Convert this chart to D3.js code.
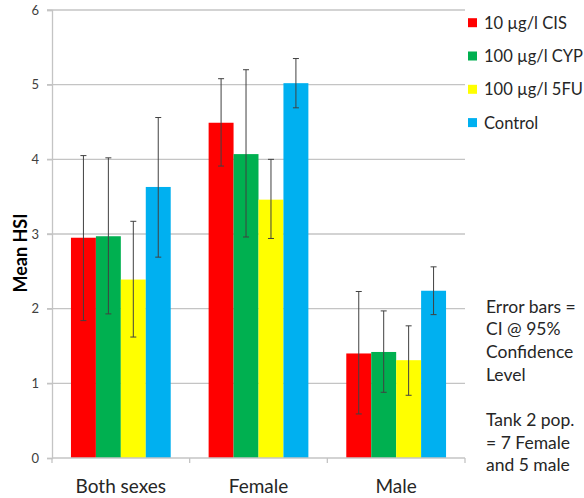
<!DOCTYPE html>
<html>
<head>
<meta charset="utf-8">
<script src="https://cdn.jsdelivr.net/npm/d3@7"></script>
<style>
  body { margin: 0; background: #fff; }
  text { font-family: Lato, "Open Sans", sans-serif; }
</style>
</head>
<body>
<svg id="chart" width="584" height="498"></svg>
<script>
// data
var groups = ["Both sexes", "Female", "Male"];
var series = ["10 µg/l CIS", "100 µg/l CYP", "100 µg/l 5FU", "Control"];
var colors = ["#ff0000", "#00b050", "#ffff00", "#00b0f0"];
var means = [
  [2.95, 2.97, 2.39, 3.63],
  [4.49, 4.07, 3.46, 5.02],
  [1.40, 1.42, 1.31, 2.24]
];
var ciLow = [
  [1.84, 1.93, 1.62, 2.69],
  [3.91, 2.96, 2.94, 4.69],
  [0.59, 0.88, 0.84, 1.92]
];
var ciHigh = [
  [4.05, 4.02, 3.17, 4.56],
  [5.08, 5.20, 4.00, 5.35],
  [2.23, 1.97, 1.77, 2.56]
];
var yTicks = [0, 1, 2, 3, 4, 5, 6];
var note = ["Error bars =", "CI @ 95%", "Confidence", "Level", "", "Tank 2 pop.", "= 7 Female", "and 5 male"];

var svg = d3.select("#chart");
var margin = {top: 10, left: 52, right: 119, bottom: 40};
var W = 584, H = 498;

var x0 = d3.scaleBand().domain(groups).range([margin.left, W - margin.right]);
var x1 = d3.scaleBand().domain(series).range([0, x0.bandwidth()]).paddingOuter(0.76).paddingInner(0);
var y = d3.scaleLinear().domain([0, 6]).range([H - margin.bottom, margin.top]);

var grid = "#c4c4c4";

// gridlines
svg.append("g").selectAll("line").data(yTicks.filter(function(d){ return d > 0; })).enter()
  .append("line")
  .attr("x1", margin.left - 5).attr("x2", W - margin.right)
  .attr("y1", function(d){ return y(d); }).attr("y2", function(d){ return y(d); })
  .attr("stroke", grid).attr("stroke-width", 1.3);

// y axis
var yAxis = svg.append("g")
  .attr("transform", "translate(" + margin.left + ",0)")
  .call(d3.axisLeft(y).tickValues(yTicks).tickFormat(d3.format("d")).tickSize(5).tickPadding(8));
yAxis.select(".domain").attr("stroke", grid).attr("stroke-width", 1.3);
yAxis.selectAll(".tick line").attr("stroke", grid).attr("stroke-width", 1.3);
yAxis.selectAll(".tick text").attr("fill", "#404040").style("font-size", "13px")
  .style("font-family", "Lato, sans-serif");

// bars
var g = svg.append("g").selectAll("g").data(groups).enter().append("g")
  .attr("transform", function(d){ return "translate(" + x0(d) + ",0)"; });

g.selectAll("rect").data(function(d, i){ return series.map(function(s, j){ return {s: s, j: j, v: means[i][j]}; }); })
  .enter().append("rect")
  .attr("x", function(d){ return x1(d.s); })
  .attr("width", x1.bandwidth())
  .attr("y", function(d){ return y(d.v); })
  .attr("height", function(d){ return y(0) - y(d.v); })
  .attr("fill", function(d){ return colors[d.j]; });

// error bars
var eb = g.selectAll("g.err").data(function(d, i){ return series.map(function(s, j){ return {s: s, lo: ciLow[i][j], hi: ciHigh[i][j]}; }); })
  .enter().append("g").attr("class", "err")
  .attr("stroke", "#404040").attr("stroke-width", 1);
eb.append("line")
  .attr("x1", function(d){ return x1(d.s) + x1.bandwidth() / 2; })
  .attr("x2", function(d){ return x1(d.s) + x1.bandwidth() / 2; })
  .attr("y1", function(d){ return y(d.lo); }).attr("y2", function(d){ return y(d.hi); });
[ "lo", "hi" ].forEach(function(k){
  eb.append("line")
    .attr("x1", function(d){ return x1(d.s) + x1.bandwidth() / 2 - 3; })
    .attr("x2", function(d){ return x1(d.s) + x1.bandwidth() / 2 + 3; })
    .attr("y1", function(d){ return y(d[k]); }).attr("y2", function(d){ return y(d[k]); });
});

// x axis
var xAxis = svg.append("g")
  .attr("transform", "translate(0," + y(0) + ")");
xAxis.append("line").attr("x1", margin.left).attr("x2", W - margin.right)
  .attr("stroke", grid).attr("stroke-width", 1.3);
xAxis.selectAll("line.tk").data(groups.concat(["end"])).enter().append("line").attr("class", "tk")
  .attr("x1", function(d, i){ return i < groups.length ? x0(d) : x0.range()[1]; })
  .attr("x2", function(d, i){ return i < groups.length ? x0(d) : x0.range()[1]; })
  .attr("y1", 0).attr("y2", 5)
  .attr("stroke", grid).attr("stroke-width", 1.3);
xAxis.selectAll("text").data(groups).enter().append("text")
  .attr("x", function(d){ return x0(d) + x0.bandwidth() / 2; })
  .attr("y", 35)
  .attr("text-anchor", "middle")
  .attr("fill", "#262626")
  .style("font-size", "19px")
  .text(function(d){ return d; });

// y title
svg.append("text")
  .attr("transform", "translate(27,253) rotate(-90)")
  .attr("text-anchor", "middle")
  .attr("fill", "#000")
  .style("font-size", "18px")
  .style("font-weight", "bold")
  .text("Mean HSI");

// legend
var leg = svg.append("g").selectAll("g").data(series).enter().append("g")
  .attr("transform", function(d, i){ return "translate(468," + (22.7 + i * 33.3) + ")"; });
leg.append("rect").attr("x", 0).attr("y", -4.5).attr("width", 9).attr("height", 9)
  .attr("fill", function(d, i){ return colors[i]; });
leg.append("text").attr("x", 16).attr("y", 6)
  .attr("fill", "#262626").style("font-size", "16.5px")
  .text(function(d){ return d; });

// note
svg.append("g").selectAll("text").data(note).enter().append("text")
  .attr("x", 486)
  .attr("y", function(d, i){ return 312.5 + i * 22.7; })
  .attr("fill", "#262626").style("font-size", "17.5px")
  .text(function(d){ return d; });
</script>
</body>
</html>
